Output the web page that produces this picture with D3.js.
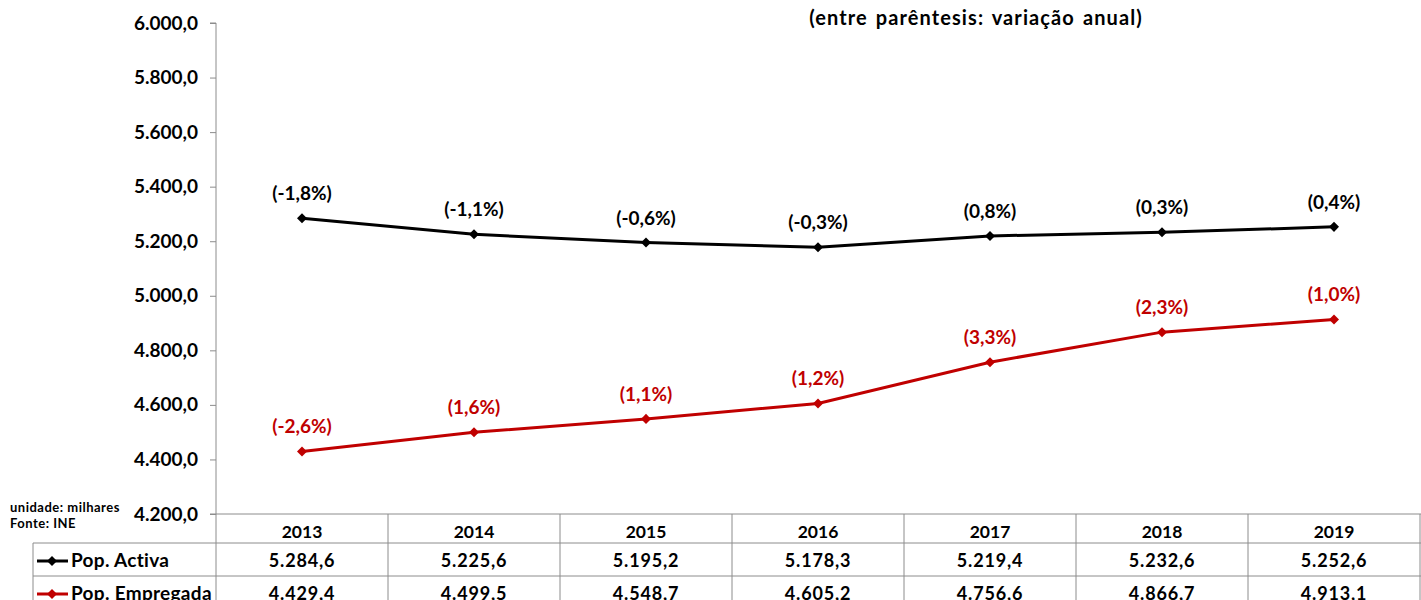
<!DOCTYPE html>
<html lang="pt">
<head>
  <meta charset="utf-8">
  <title>Pop. Activa e Pop. Empregada</title>
  <style>
    body { margin: 0; background: #fff; }
    svg text { font-family: Lato, "Open Sans", sans-serif; font-weight: 700; }
  </style>
</head>
<body>
  <script src="https://cdnjs.cloudflare.com/ajax/libs/d3/7.8.5/d3.min.js"></script>
  <script>
  const years = ["2013", "2014", "2015", "2016", "2017", "2018", "2019"];
  const activa = [5284.6, 5225.6, 5195.2, 5178.3, 5219.4, 5232.6, 5252.6];
  const empregada = [4429.4, 4499.5, 4548.7, 4605.2, 4756.6, 4866.7, 4913.1];
  const activaVar = ["(-1,8%)", "(-1,1%)", "(-0,6%)", "(-0,3%)", "(0,8%)", "(0,3%)", "(0,4%)"];
  const empregadaVar = ["(-2,6%)", "(1,6%)", "(1,1%)", "(1,2%)", "(3,3%)", "(2,3%)", "(1,0%)"];
  const yTicks = [4200, 4400, 4600, 4800, 5000, 5200, 5400, 5600, 5800, 6000];

  const W = 1421, H = 600;
  const plot = { left: 216, right: 1420, top: 23, bottom: 514 };
  const gridCol = "#8c8c8c";
  const fmt = v => d3.format(",.1f")(v).replace(/,/g, "#").replace(".", ",").replace(/#/g, ".");

  const svg = d3.select("body").append("svg")
    .attr("width", W).attr("height", H);

  const x = d3.scaleBand().domain(years).range([plot.left, plot.right]);
  const y = d3.scaleLinear().domain([4200, 6000]).range([plot.bottom, plot.top]);
  const cx = i => x(years[i]) + x.bandwidth() / 2;

  // y axis
  const yAxis = d3.axisLeft(y).tickValues(yTicks).tickFormat(fmt).tickSize(6).tickPadding(12);
  const yg = svg.append("g").attr("transform", `translate(${plot.left},0)`).call(yAxis);
  yg.select(".domain").attr("stroke", gridCol).attr("d", `M-6,${plot.top}H0V${plot.bottom}`);
  yg.selectAll(".tick line").attr("stroke", gridCol);
  yg.selectAll(".tick text").attr("fill", "#000").style("font-size", "19px");

  // title
  svg.append("text")
    .attr("x", 976).attr("y", 25)
    .attr("text-anchor", "middle")
    .style("font-size", "20px").style("letter-spacing", "1.1px").style("word-spacing", "2px")
    .text("(entre parêntesis: variação anual)");

  // notes
  svg.append("text").attr("x", 10).attr("y", 512)
    .style("font-size", "13px").style("letter-spacing", "0.5px").text("unidade: milhares");
  svg.append("text").attr("x", 10).attr("y", 528)
    .style("font-size", "13px").style("letter-spacing", "0.5px").text("Fonte: INE");

  // data table
  const rowTop = [514, 543, 576, 609];
  const tbl = svg.append("g").attr("stroke", gridCol).attr("stroke-width", 1).attr("fill", "none");
  tbl.append("line").attr("x1", plot.left - 6).attr("x2", W).attr("y1", rowTop[0]).attr("y2", rowTop[0]);
  tbl.append("line").attr("x1", 33).attr("x2", W).attr("y1", rowTop[1]).attr("y2", rowTop[1]);
  tbl.append("line").attr("x1", 33).attr("x2", W).attr("y1", rowTop[2]).attr("y2", rowTop[2]);
  tbl.append("line").attr("x1", 33).attr("x2", 33).attr("y1", rowTop[1]).attr("y2", H);
  tbl.selectAll(".col").data(years).join("line")
    .attr("x1", d => x(d) + x.bandwidth()).attr("x2", d => x(d) + x.bandwidth())
    .attr("y1", rowTop[0]).attr("y2", H);
  tbl.append("line").attr("x1", plot.left).attr("x2", plot.left).attr("y1", rowTop[0]).attr("y2", H);

  svg.selectAll(".yr").data(years).join("text")
    .attr("x", d => x(d) + x.bandwidth() / 2).attr("y", 538)
    .attr("text-anchor", "middle").style("font-size", "17.5px").text(d => d);

  const series = [
    { name: "Pop. Activa", values: activa, vars: activaVar, color: "#000000", row: 1 },
    { name: "Pop. Empregada", values: empregada, vars: empregadaVar, color: "#c00000", row: 2 }
  ];

  const diamond = d3.symbol().type(d3.symbolDiamond2).size(64);
  const line = d3.line().x((d, i) => cx(i)).y(d => y(d));

  series.forEach(s => {
    const base = rowTop[s.row] + 24;
    // legend key
    svg.append("line").attr("x1", 37).attr("x2", 68).attr("y1", base - 6).attr("y2", base - 6)
      .attr("stroke", s.color).attr("stroke-width", 3);
    svg.append("path").attr("d", diamond).attr("fill", s.color)
      .attr("transform", `translate(52,${base - 6})`);
    svg.append("text").attr("x", 71).attr("y", base)
      .style("font-size", "19px").style("letter-spacing", "0.3px").text(s.name);
    svg.selectAll(null).data(s.values).join("text")
      .attr("x", (d, i) => cx(i)).attr("y", base)
      .attr("text-anchor", "middle").style("font-size", "18px").style("letter-spacing", "0.8px")
      .text(d => fmt(d));

    // line + markers
    svg.append("path").datum(s.values).attr("d", line)
      .attr("fill", "none").attr("stroke", s.color).attr("stroke-width", 3);
    svg.selectAll(null).data(s.values).join("path")
      .attr("d", diamond).attr("fill", s.color)
      .attr("transform", (d, i) => `translate(${cx(i)},${y(d)})`);
    svg.selectAll(null).data(s.values).join("text")
      .attr("x", (d, i) => cx(i))
      .attr("y", d => y(d) - 18)
      .attr("text-anchor", "middle").attr("fill", s.color)
      .style("font-size", "19px").text((d, i) => s.vars[i]);
  });
  </script>
</body>
</html>
